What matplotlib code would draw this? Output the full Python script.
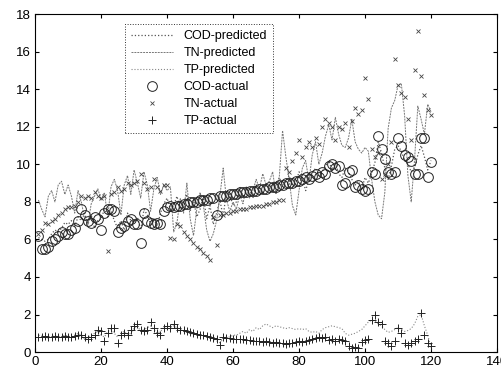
import numpy as np
import matplotlib
matplotlib.use("Agg")
import matplotlib.pyplot as plt

plt.rcParams["font.family"] = ["Liberation Sans", "DejaVu Sans"]

# sample index
x = np.arange(1, 121)

cod_actual = [
    6.2, 5.5, 5.5, 5.6, 5.9, 6.0, 6.2, 6.4, 6.3, 6.3,
    6.5, 6.6, 7.0, 7.6, 7.3, 7.0, 6.9, 7.2, 7.1, 6.5,
    7.4, 7.6, 7.6, 7.5, 6.4, 6.6, 6.7, 7.0, 7.1, 6.8,
    6.8, 5.8, 7.4, 7.0, 6.9, 6.8, 6.9, 6.8, 7.5, 7.7,
    7.8, 7.7, 7.8, 7.8, 7.9, 7.9, 8.0, 8.0, 8.0, 8.1,
    8.1, 8.1, 8.2, 8.2, 7.3, 8.3, 8.3, 8.3, 8.4, 8.4,
    8.4, 8.5, 8.5, 8.5, 8.6, 8.6, 8.6, 8.7, 8.7, 8.7,
    8.8, 8.8, 8.8, 8.9, 8.9, 9.0, 9.0, 9.0, 9.1, 9.1,
    9.2, 9.3, 9.2, 9.4, 9.5, 9.3, 9.6, 9.5, 9.9, 10.0,
    9.8, 9.9, 8.9, 9.0, 9.6, 9.7, 8.8, 8.9, 8.7, 8.6,
    8.7, 9.6, 9.5, 11.5, 10.8, 10.3, 9.6, 9.5, 9.6, 11.4,
    11.0, 10.5, 10.4, 10.2, 9.5, 9.5, 11.4, 11.4, 9.3, 10.1,
]

tn_actual = [
    6.3, 6.5, 6.9, 6.8, 7.0, 7.1, 7.3, 7.4, 7.6, 7.7,
    7.7, 7.8, 8.0, 8.3, 8.2, 8.3, 8.2, 8.5, 8.3, 8.2,
    8.3, 5.4, 8.4, 8.5, 8.8, 8.6, 8.7, 9.0, 8.9, 9.0,
    9.1, 9.5, 9.0, 8.7, 8.8, 9.2, 8.8, 8.6, 8.9, 8.9,
    6.1, 6.0, 6.8, 6.7, 6.4, 6.2, 6.0, 5.8, 5.6, 5.5,
    5.3, 5.1, 4.9, 7.2, 5.7, 7.3, 7.3, 7.4, 7.4, 7.5,
    7.5, 7.6, 7.6, 7.6, 7.7, 7.7, 7.8, 7.8, 7.8, 7.9,
    7.9, 8.0, 8.0, 8.1, 8.1, 9.8, 9.6, 10.2, 10.6, 11.3,
    10.4, 10.9, 11.2, 10.9, 11.4, 11.1, 12.0, 12.4, 12.2, 12.0,
    11.3, 12.0, 11.9, 12.2, 10.9, 12.3, 13.0, 12.7, 12.9, 14.6,
    13.5, 10.8, 10.4, 10.6, 9.2, 9.5, 10.0, 11.2, 15.6, 14.2,
    13.8, 13.6, 12.4, 11.3, 15.0, 17.1, 14.7, 13.7, 12.9, 12.6,
]

tp_actual = [
    0.8, 0.8, 0.85, 0.8, 0.8, 0.85, 0.8, 0.8, 0.85, 0.8,
    0.8, 0.85, 0.9, 0.9, 0.8, 0.7, 0.8, 0.9, 1.2, 1.1,
    0.6, 1.0, 1.3, 1.3, 0.5, 0.9, 1.0, 0.9, 1.2, 1.4,
    1.5, 1.2, 1.1, 1.2, 1.6, 1.3, 1.0, 0.9, 1.3, 1.4,
    1.3, 1.5, 1.3, 1.2, 1.15, 1.1, 1.05, 1.0, 0.95, 0.9,
    0.9, 0.85, 0.8, 0.75, 0.7, 0.4, 0.8, 0.75, 0.75, 0.7,
    0.7, 0.7, 0.7, 0.65, 0.65, 0.6, 0.6, 0.6, 0.55, 0.6,
    0.55, 0.5, 0.55, 0.5, 0.5, 0.45, 0.5, 0.5, 0.55, 0.6,
    0.55, 0.6, 0.65, 0.7, 0.75, 0.8, 0.75, 0.8, 0.65, 0.7,
    0.6, 0.7, 0.65, 0.6, 0.35, 0.2, 0.25, 0.2, 0.55, 0.65,
    0.7, 1.7, 2.0, 1.6, 1.5, 0.6, 0.5, 0.3, 0.6, 1.3,
    1.0, 0.5, 0.4, 0.5, 0.6, 0.7, 2.1, 0.9, 0.5, 0.3,
]

# model outputs
cod_pred = [
    6.1, 6.0, 5.9, 6.0, 6.3, 6.5, 6.4, 6.6, 6.9, 6.8,
    7.0, 6.7, 7.2, 7.0, 7.4, 6.8, 7.3, 6.6, 7.0, 7.1,
    7.6, 7.3, 7.5, 7.0, 6.6, 7.0, 6.5, 7.4, 7.0, 6.9,
    7.2, 6.5, 7.6, 7.3, 6.8, 7.1, 6.7, 7.4, 7.9, 8.2,
    7.6, 7.8, 8.3, 7.6, 7.9, 8.4, 7.5, 8.1, 7.2, 7.6,
    8.3, 7.1, 7.8, 6.8, 7.4, 8.1, 7.2, 8.6, 8.4, 7.8,
    8.0, 8.8, 8.3, 8.5, 8.7, 8.2, 8.9, 8.6, 8.4, 8.9,
    8.7, 9.0, 8.8, 9.3, 8.9, 9.1, 9.4, 8.8, 9.0, 9.6,
    9.3, 8.6, 9.2, 9.5, 9.8, 9.4, 9.6, 9.9, 10.2, 9.7,
    10.1, 9.5, 9.3, 9.8, 9.6, 9.2, 8.9, 9.1, 8.7, 9.3,
    9.0, 9.5, 10.1, 11.2, 10.6, 9.8, 9.2, 9.9, 10.8, 11.0,
    10.7, 10.2, 10.0, 9.6, 9.8, 10.5, 11.0, 10.4, 9.7, 10.2,
]

tn_pred = [
    8.1, 7.6, 7.2, 8.3, 8.6, 8.0, 8.9, 9.1, 8.4, 8.9,
    8.3, 7.4, 8.6, 8.0, 7.1, 6.8, 7.9, 8.3, 8.7, 8.1,
    8.5, 7.2, 8.8, 9.2, 8.6, 7.3, 8.9, 9.4, 8.4, 9.7,
    9.0, 8.2, 9.6, 8.9, 7.5, 8.7, 9.3, 8.4, 8.9, 8.6,
    8.8, 6.4, 6.9, 8.2, 7.4, 9.0, 7.1, 6.2, 7.6, 8.5,
    7.8, 6.5, 5.9, 6.3, 7.0, 8.3, 9.8, 8.1, 7.5, 8.0,
    7.6, 8.4, 7.9, 8.8, 8.2, 8.6, 9.2, 8.7, 9.5, 8.9,
    9.1, 9.6, 8.4, 9.3, 11.8, 10.4, 9.2, 7.8, 7.3, 8.6,
    9.8, 10.2, 9.1, 10.5, 11.2, 10.0, 10.6, 11.5, 12.1, 11.3,
    12.5, 11.6, 11.0, 10.9, 11.4, 12.4, 11.2, 10.8, 10.6, 10.9,
    10.7, 9.2, 8.0, 7.3, 7.1, 8.5, 11.9, 13.0, 13.4, 14.2,
    14.3, 12.6, 9.4, 8.0, 10.2, 13.1, 12.4, 11.6, 13.2, 12.8,
]

tp_pred = [
    0.9, 0.85, 0.8, 0.75, 0.8, 0.9, 0.85, 0.8, 0.9, 0.85,
    0.8, 0.9, 1.0, 0.9, 0.7, 0.8, 0.9, 1.0, 1.1, 0.9,
    0.8, 1.1, 1.2, 1.0, 0.8, 1.0, 1.1, 0.9, 1.0, 1.3,
    1.4, 1.1, 1.2, 1.3, 1.4, 1.2, 1.0, 1.1, 1.3, 1.4,
    1.3, 1.4, 1.3, 1.2, 1.1, 1.05, 1.0, 0.95, 0.95, 0.9,
    0.85, 0.8, 0.8, 0.7, 0.6, 0.5, 0.7, 0.8, 0.8, 0.9,
    0.9, 1.0, 1.1, 1.0, 1.2, 1.1, 1.3, 1.2, 1.4, 1.5,
    1.4, 1.3, 1.4, 1.35, 1.3, 1.25, 1.3, 1.25, 1.2, 1.25,
    1.2, 1.25, 1.1, 1.05, 1.1, 1.0, 1.2, 1.3, 1.35, 1.4,
    1.35, 1.3, 1.25, 1.0, 0.9, 0.95, 1.0, 1.1, 1.2, 1.4,
    1.6, 1.7, 1.65, 1.5, 1.4, 1.2, 1.05, 1.1, 1.2, 1.3,
    1.2, 1.1, 1.15, 1.25, 1.5, 1.9, 2.0, 1.4, 0.9, 0.25,
]

x_ticks = [0, 20, 40, 60, 80, 100, 120, 140]
y_ticks = [0, 2, 4, 6, 8, 10, 12, 14, 16, 18]

fig = plt.figure(figsize=(5.02, 3.71), dpi=100)
ax = fig.add_axes([0.070, 0.051, 0.920, 0.911])

ax.plot(x, cod_pred, color="#555555", linestyle=":", linewidth=0.9, label="COD-predicted")
ax.plot(x, tn_pred, color="#777777", linestyle=(0, (2, 1)), linewidth=0.7, label="TN-predicted")
ax.plot(x, tp_pred, color="#888888", linestyle=":", linewidth=0.8, label="TP-predicted")
ax.plot(x, cod_actual, linestyle="none", marker="o", markersize=7,
        markerfacecolor="none", markeredgecolor="#222222", markeredgewidth=0.7, label="COD-actual")
ax.plot(x, tn_actual, linestyle="none", marker="x", markersize=3.5,
        color="#444444", markeredgewidth=0.6, label="TN-actual")
ax.plot(x, tp_actual, linestyle="none", marker="+", markersize=6,
        color="#222222", markeredgewidth=0.7, label="TP-actual")

ax.set_xlim(0, 140)
ax.set_ylim(0, 18)
ax.set_xticks(x_ticks)
ax.set_yticks(y_ticks)
ax.tick_params(direction="in", top=True, right=True, labelsize=9.5, length=3, pad=3)
for s in ax.spines.values():
    s.set_linewidth(0.8)

leg = ax.legend(loc="upper left", bbox_to_anchor=(0.18, 0.99), fontsize=9,
                frameon=True, fancybox=False, edgecolor="#333333", framealpha=1,
                handlelength=3.4, labelspacing=0.4, borderpad=0.5, handletextpad=0.8)
leg.get_frame().set_linewidth(0.7)
leg.get_frame().set_linestyle(":")

fig.savefig("out.png", dpi=100)
